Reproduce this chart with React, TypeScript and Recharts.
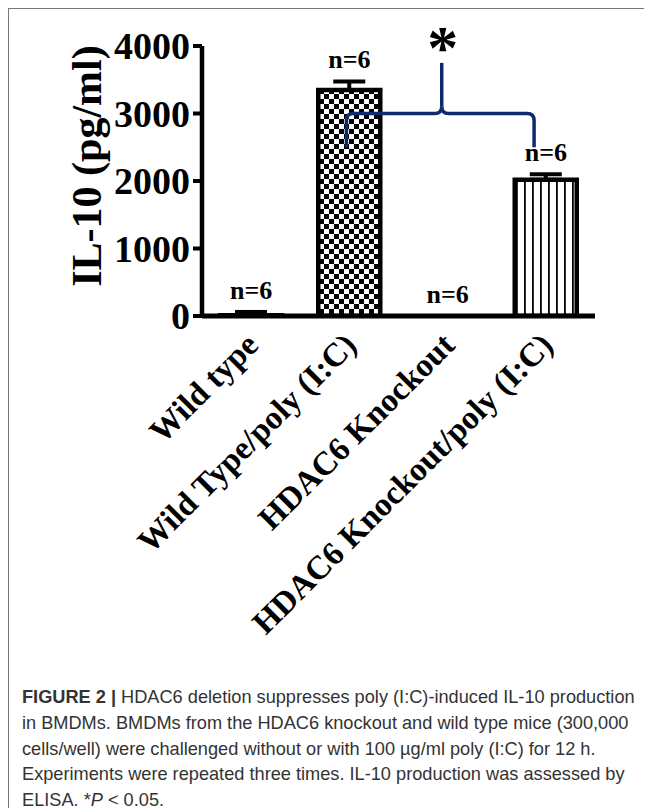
import React from 'react';
import {
  BarChart,
  Bar,
  XAxis,
  YAxis,
  Cell,
  ErrorBar,
  ReferenceLine,
  ReferenceDot,
  Label,
} from 'recharts';

const categories = ['Wild type', 'Wild Type/poly (I:C)', 'HDAC6 Knockout', 'HDAC6 Knockout/poly (I:C)'];
const means = [10, 3350, 0, 2020];
const sems = [50, 125, null, 80];
const nLabels = ['n=6', 'n=6', 'n=6', 'n=6'];
const yTicks = [0, 1000, 2000, 3000, 4000];
const barFills = ['#fff', 'url(#checker)', '#fff', 'url(#stripes)'];

// significance brace: anchored on categories 2-4, shifted by a fraction of a band
const braceCats = [categories[1], categories[2], categories[3]];
const braceShift = [-0.03, -0.06, -0.12];
const braceY = [2500, 3000, 3750]; // ends, bar, peak

const captionLines = [
  'in BMDMs. BMDMs from the HDAC6 knockout and wild type mice (300,000',
  'cells/well) were challenged without or with 100 \u00b5g/ml poly (I:C) for 12 h.',
  'Experiments were repeated three times. IL-10 production was assessed by',
];

const serif = "'Times New Roman', 'Liberation Serif', serif";
const navy = '#0f2a6b';
const R = 7;

const CHART_W = 634;
const Y_W = 193;
const M_RIGHT = 48;
const BAND = (CHART_W - Y_W - M_RIGHT) / categories.length;

const data = categories.map((name, i) => ({
  name,
  mean: means[i],
  errRange: sems[i] == null ? null : [0, sems[i]],
}));

const XTick = ({ x, y, payload }: any) => {
  const tx = x + 9;
  const ty = y + 31;
  return (
    <text
      x={tx}
      y={ty}
      transform={`rotate(-45, ${tx}, ${ty})`}
      textAnchor="end"
      fontSize={33}
      fontWeight="bold"
      fontFamily={serif}
      fill="#000"
    >
      {payload.value}
    </text>
  );
};

const YLabel = ({ viewBox }: any) => {
  const cx = 92;
  const cy = viewBox.y + viewBox.height / 2 - 15;
  return (
    <text
      x={cx}
      y={cy}
      transform={`rotate(-90, ${cx}, ${cy})`}
      textAnchor="middle"
      fontSize={42}
      fontWeight="bold"
      fontFamily={serif}
      fill="#000"
    >
      IL-10 (pg/ml)
    </text>
  );
};

const leftHook = ({ x1, y1, x2, y2 }: any) => {
  const a = x1 + braceShift[0] * BAND;
  const b = x2 + braceShift[1] * BAND;
  return (
    <path
      d={`M${a},${y1} L${a},${y2 + R} Q${a},${y2} ${a + R},${y2} L${b - R},${y2} Q${b},${y2} ${b},${y2 - R}`}
      fill="none"
      stroke={navy}
      strokeWidth={3.5}
    />
  );
};

const rightHook = ({ x1, y1, x2, y2 }: any) => {
  const a = x1 + braceShift[1] * BAND;
  const b = x2 + braceShift[2] * BAND;
  return (
    <path
      d={`M${a},${y1 - R} Q${a},${y1} ${a + R},${y1} L${b - R},${y1} Q${b},${y1} ${b},${y1 + R} L${b},${y2}`}
      fill="none"
      stroke={navy}
      strokeWidth={3.5}
    />
  );
};

const peak = ({ x1, y1, x2, y2 }: any) => {
  const a = x1 + braceShift[1] * BAND;
  return (
    <g>
      <path d={`M${a},${y1 - R} L${a},${y2}`} fill="none" stroke={navy} strokeWidth={3.5} />
      <text x={a + 1} y={y2 + 5} textAnchor="middle" fontSize={62} fontWeight="bold" fontFamily={serif} fill="#000">
        *
      </text>
    </g>
  );
};

export default function App() {
  return (
    <div
      style={{
        position: 'relative',
        width: 643,
        height: 799,
        marginTop: -1,
        marginLeft: -1,
        borderTop: '2px solid #777',
        borderLeft: '2px solid #777',
        overflow: 'hidden',
      }}
    >
      <style>{'html,body{overflow:hidden}'}</style>
      <BarChart
        width={CHART_W}
        height={650}
        data={data}
        margin={{ top: 37, right: M_RIGHT, left: 0, bottom: 0 }}
        barCategoryGap={0}
      >
        <defs>
          <pattern id="checker" width={10} height={10} patternUnits="userSpaceOnUse">
            <rect width={10} height={10} fill="#fff" />
            <rect width={5} height={5} fill="#000" />
            <rect x={5} y={5} width={5} height={5} fill="#000" />
          </pattern>
          <pattern id="stripes" width={8} height={8} patternUnits="userSpaceOnUse">
            <rect width={8} height={8} fill="#fff" />
            <rect x={3} width={1.8} height={8} fill="#000" />
          </pattern>
        </defs>
        <XAxis
          dataKey="name"
          height={343}
          interval={0}
          tickSize={0}
          tickMargin={0}
          tickLine={false}
          axisLine={{ stroke: '#000', strokeWidth: 5 }}
          tick={<XTick />}
        />
        <YAxis
          width={Y_W}
          domain={[0, 4000]}
          ticks={yTicks}
          interval={0}
          allowDataOverflow
          tickSize={9}
          tickMargin={3}
          axisLine={{ stroke: '#000', strokeWidth: 4.5 }}
          tickLine={{ stroke: '#000', strokeWidth: 4 }}
          tick={{ fontSize: 38, fontWeight: 'bold', fill: '#000', fontFamily: serif }}
        >
          <Label content={<YLabel />} />
        </YAxis>
        <Bar dataKey="mean" barSize={62} stroke="#000" strokeWidth={4.5} isAnimationActive={false}>
          {data.map((d, i) => (
            <Cell key={d.name} fill={barFills[i]} />
          ))}
          <ErrorBar dataKey="errRange" direction="y" width={16} stroke="#000" strokeWidth={4} />
        </Bar>
        {categories.map((c, i) => (
          <ReferenceDot
            key={c}
            x={c}
            y={means[i] + (sems[i] ?? 0)}
            r={0}
            fill="none"
            stroke="none"
            label={{
              value: nLabels[i],
              position: 'top',
              offset: 13,
              fill: '#000',
              fontSize: 26,
              fontWeight: 'bold',
              fontFamily: serif,
            }}
          />
        ))}
        <ReferenceLine
          segment={[
            { x: braceCats[0], y: braceY[0] },
            { x: braceCats[1], y: braceY[1] },
          ]}
          shape={leftHook}
        />
        <ReferenceLine
          segment={[
            { x: braceCats[1], y: braceY[1] },
            { x: braceCats[2], y: braceY[0] },
          ]}
          shape={rightHook}
        />
        <ReferenceLine
          segment={[
            { x: braceCats[1], y: braceY[1] },
            { x: braceCats[1], y: braceY[2] },
          ]}
          shape={peak}
        />
      </BarChart>
      <div
        style={{
          position: 'absolute',
          left: 13,
          top: 676,
          fontFamily: "'Liberation Sans', Arial, sans-serif",
          fontSize: 18.2,
          lineHeight: '25.8px',
          color: '#333',
          whiteSpace: 'nowrap',
        }}
      >
        <div>
          <b>FIGURE 2 |</b> HDAC6 deletion suppresses poly (I:C)-induced IL-10 production
        </div>
        {captionLines.map((l) => (
          <div key={l}>{l}</div>
        ))}
        <div>
          ELISA. *<i>P</i> &lt; 0.05.
        </div>
      </div>
    </div>
  );
}
